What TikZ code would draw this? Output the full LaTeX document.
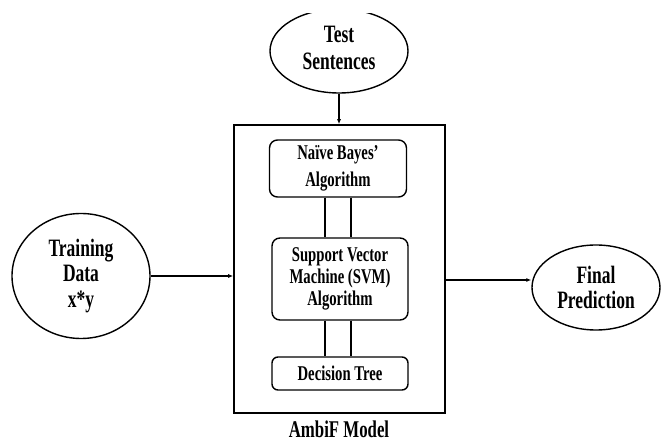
\documentclass[tikz,border=0pt]{standalone}
\usepackage{fontspec}
\setmainfont{Liberation Serif}[FakeStretch=0.7]
\usetikzlibrary{shapes.geometric,arrows.meta,calc}
\begin{document}
\begin{tikzpicture}[x=1pt,y=-1pt,
  ell/.style={draw, ellipse, line width=1.4pt, inner sep=0pt, align=center,
    font=\fontsize{25}{25.5}\selectfont\bfseries},
  algbox/.style={draw, rounded corners=8pt, line width=1.4pt, inner sep=0pt, align=center,
    font=\fontsize{21}{22}\selectfont\bfseries},
  link/.style={line width=1.5pt},
  arr/.style={line width=1.4pt, -{Latex[length=5pt,width=4pt]}}]
\useasboundingbox (0,0) rectangle (662,443);
\fill[white] (0,0) rectangle (662,443);
% main model box
\node[draw, line width=1.6pt, minimum width=211pt, minimum height=288pt] (model) at (339.5,269) {};
\node[anchor=base, font=\fontsize{24}{24}\selectfont\bfseries] (lbl) at (339,438) {AmbiF Model};
% test sentences (clipped at the top)
\begin{scope}
\clip (0,14) rectangle (662,443);
\node[ell, minimum width=138pt, minimum height=84pt] (test) at (339,51) {\raisebox{-3pt}{\begin{tabular}{@{}c@{}}Test\\[1pt]Sentences\end{tabular}}};
\end{scope}
% inner algorithm boxes
\node[algbox, minimum width=137pt, minimum height=57pt, font=\fontsize{21}{27}\selectfont\bfseries] (nb) at (338,168.5) {Naïve Bayes’\\Algorithm};
\node[algbox, minimum width=136pt, minimum height=82pt] (svm) at (340,279) {Support Vector\\Machine (SVM)\\Algorithm};
\node[algbox, rounded corners=6pt, minimum width=136pt, minimum height=33pt] (dt) at (340,373.5) {Decision Tree};
% links between boxes
\draw[link] ([xshift=-13pt]nb.south) -- ([xshift=-13pt]nb.south |- svm.north);
\draw[link] ([xshift=13pt]nb.south) -- ([xshift=13pt]nb.south |- svm.north);
\draw[link] ([xshift=-15pt]svm.south) -- ([xshift=-15pt]svm.south |- dt.north);
\draw[link] ([xshift=11pt]svm.south) -- ([xshift=11pt]svm.south |- dt.north);
% side ellipses
\node[ell, minimum width=138pt, minimum height=125pt] (train) at (81,276) {Training\\Data\\x*y};
\node[ell, minimum width=128pt, minimum height=85pt] (final) at (596,287.5) {Final\\Prediction};
% arrows
\draw[arr] (test.south) -- (test.south |- model.north);
\draw[arr] (train.east) -- (train.east -| model.west);
\draw[arr] ([yshift=-11pt]model.east) -- ([yshift=-11pt]model.east -| final.west);
\end{tikzpicture}
\end{document}
